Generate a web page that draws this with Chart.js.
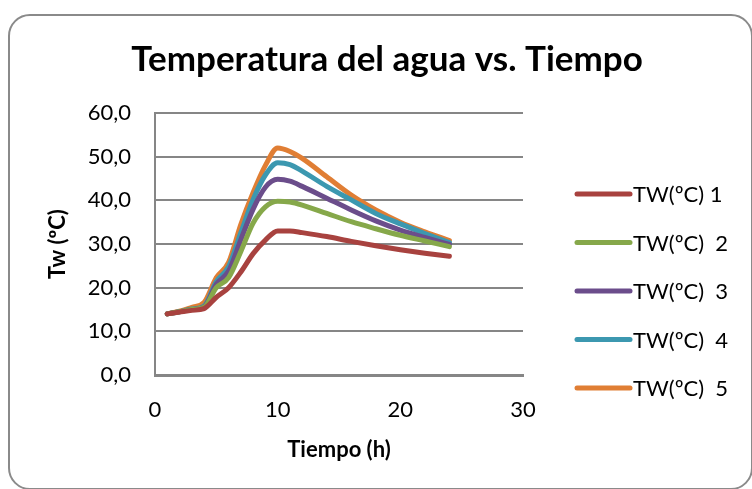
<!DOCTYPE html>
<html>
<head>
<meta charset="utf-8">
<script src="https://cdn.jsdelivr.net/npm/chart.js@4"></script>
<style>
  html, body { margin: 0; padding: 0; background: #fff; }
  #wrap { position: relative; width: 752px; height: 489px; overflow: hidden; }
  #frame {
    position: absolute; left: 8px; top: 14px; width: 741px; height: 472px;
    border: 2px solid #8a8a8a; border-radius: 22px; background: #fff;
  }
  canvas { position: absolute; left: 0; top: 0; }
</style>
</head>
<body>
<div id="wrap">
  <div id="frame"></div>
  <canvas id="myChart" width="752" height="489"></canvas>
</div>
<script>
// tiempo (h)
var tiempo = [1, 2, 3, 4, 5, 6, 7, 8, 9, 10, 11, 12, 14, 16, 18, 20, 22, 24];

// temperatura del agua por serie
var tw1 = [14.0, 14.4, 14.8, 15.2, 17.8, 20.0, 23.6, 27.8, 30.9, 33.0, 33.0, 32.6, 31.7, 30.6, 29.6, 28.7, 27.9, 27.2];
var tw2 = [14.0, 14.5, 15.0, 15.5, 20.0, 22.3, 28.3, 34.8, 38.5, 39.8, 39.6, 38.9, 37.0, 35.1, 33.5, 32.0, 30.7, 29.4];
var tw3 = [14.0, 14.5, 15.0, 15.6, 20.8, 23.8, 31.0, 38.0, 43.0, 44.8, 44.4, 43.2, 40.5, 37.8, 35.3, 33.2, 31.5, 29.9];
var tw4 = [14.0, 14.5, 15.1, 15.8, 21.4, 24.8, 32.6, 40.2, 45.8, 48.6, 48.2, 46.7, 43.2, 40.1, 37.0, 34.6, 32.4, 30.3];
var tw5 = [14.0, 14.6, 15.5, 16.6, 22.3, 25.8, 34.5, 41.8, 48.0, 52.0, 51.2, 49.6, 45.4, 41.2, 37.8, 35.0, 32.8, 30.8];

var seriesNames = ['TW(ºC) 1', 'TW(ºC)  2', 'TW(ºC)  3', 'TW(ºC)  4', 'TW(ºC)  5'];
var seriesColors = ['#A8423F', '#86A84A', '#6B4D8B', '#3C98B0', '#E07E34'];
var seriesValues = [tw1, tw2, tw3, tw4, tw5];

var FONT = 'Lato, "DejaVu Sans", sans-serif';

function toPoints(values){
    var pts = [];
    for (var i = 0; i < tiempo.length; i++){
        pts.push({x: tiempo[i], y: values[i]});
    }
    return pts;
}

var datasets = [];
for (var s = 0; s < seriesValues.length; s++){
    datasets.push({
        label: seriesNames[s],
        data: toPoints(seriesValues[s]),
        borderColor: seriesColors[s],
        backgroundColor: seriesColors[s],
        borderWidth: 5,
        pointRadius: 0,
        showLine: true,
        cubicInterpolationMode: 'monotone',
        borderCapStyle: 'round',
        borderJoinStyle: 'round'
    });
}

// legend drawn at the right side, like the original sheet
var sideLegend = {
    id: 'sideLegend',
    afterDraw: function(chart){
        var ctx = chart.ctx;
        var x0 = chart.chartArea.right + 54;
        var y0 = 194, step = 48.5;
        ctx.save();
        ctx.font = '22px ' + FONT;
        ctx.textBaseline = 'middle';
        ctx.textAlign = 'left';
        chart.data.datasets.forEach(function(ds, i){
            var y = y0 + i * step;
            ctx.strokeStyle = ds.borderColor;
            ctx.lineWidth = 5;
            ctx.lineCap = 'round';
            ctx.beginPath();
            ctx.moveTo(x0, y);
            ctx.lineTo(x0 + 53, y);
            ctx.stroke();
            ctx.fillStyle = '#000';
            ctx.fillText(ds.label, x0 + 56, y + 1);
        });
        ctx.restore();
    }
};

var ctx = document.getElementById('myChart').getContext('2d');
var chart = new Chart(ctx, {
    type: 'scatter',
    data: { datasets: datasets },
    options: {
        responsive: false,
        animation: false,
        layout: { padding: { left: 22, right: 0, top: 2, bottom: 0 } },
        plugins: {
            legend: { display: false },
            tooltip: { enabled: false },
            title: {
                display: true,
                text: 'Temperatura del agua vs. Tiempo',
                color: '#000',
                font: { family: FONT, size: 35, weight: 'bold' },
                padding: { top: 37, bottom: 32 }
            }
        },
        scales: {
            x: {
                type: 'linear',
                min: 0, max: 30,
                afterFit: function(scale){ scale.height = 114; },
                ticks: {
                    stepSize: 10,
                    color: '#000',
                    padding: 22,
                    font: { family: FONT, size: 22 }
                },
                grid: { drawOnChartArea: false, drawTicks: false },
                border: { color: '#868686', width: 3 },
                title: {
                    display: true,
                    text: 'Tiempo (h)',
                    color: '#000',
                    font: { family: FONT, size: 22, weight: 'bold' },
                    padding: { top: 0, bottom: 26 }
                }
            },
            y: {
                min: 0, max: 60,
                afterFit: function(scale){ scale.width = 133; },
                ticks: {
                    stepSize: 10,
                    color: '#000',
                    padding: 24,
                    font: { family: FONT, size: 22 },
                    callback: function(v){ return v.toFixed(1).replace('.', ','); }
                },
                grid: { color: '#868686', lineWidth: 2, drawTicks: false },
                border: { color: '#868686', width: 2 },
                title: {
                    display: true,
                    text: 'Tw (ºC)',
                    color: '#000',
                    font: { family: FONT, size: 22, weight: 'bold' },
                    padding: { top: 23, bottom: 0 }
                }
            },
            // empty right-hand axis that reserves room for the legend
            yRight: {
                position: 'right',
                min: 0, max: 60,
                afterFit: function(scale){ scale.width = 229; },
                ticks: { display: false },
                grid: { display: false, drawTicks: false },
                border: { display: false }
            }
        }
    },
    plugins: [sideLegend]
});
</script>
</body>
</html>
